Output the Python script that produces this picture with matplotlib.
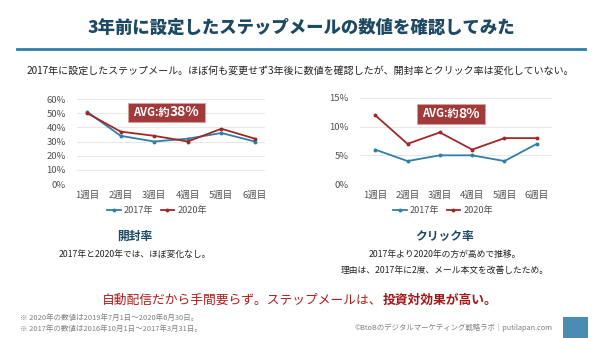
import matplotlib
matplotlib.use("Agg")
import matplotlib.pyplot as plt
from matplotlib.lines import Line2D
from matplotlib.patches import Rectangle

plt.rcParams['font.family'] = ['Noto Sans CJK JP', 'DejaVu Sans']

weeks = ["1週目", "2週目", "3週目", "4週目", "5週目", "6週目"]
open_2017 = [51, 34, 30, 32, 36, 30]
open_2020 = [50, 37, 34, 30, 39, 32]
click_2017 = [6, 4, 5, 5, 4, 7]
click_2020 = [12, 7, 9, 6, 8, 8]
series_labels = ["2017年", "2020年"]
open_ticks = [0, 10, 20, 30, 40, 50, 60]
click_ticks = [0, 5, 10, 15]

W, H = 600, 338
C17 = "#2f7fa6"
C20 = "#a02828"
NAVY = "#1d4a63"

fig = plt.figure(figsize=(W / 100, H / 100), dpi=100)
fig.patch.set_facecolor("white")


def fx(x):
    return x / W


def fy(y):
    return 1 - y / H


def axes_px(l, t, r, b):
    return fig.add_axes([fx(l), fy(b), (r - l) / W, (b - t) / H])


def draw_chart(ax, d17, d20, ticks, xlim):
    x = list(range(len(weeks)))
    ax.plot(x, d17, color=C17, lw=1.3, marker="o", ms=1.8, label=series_labels[0])
    ax.plot(x, d20, color=C20, lw=1.3, marker="o", ms=1.8, label=series_labels[1])
    ax.set_ylim(ticks[0], ticks[-1])
    ax.set_xlim(*xlim)
    ax.set_yticks(ticks)
    ax.set_yticklabels([f"{t}%" for t in ticks])
    ax.set_xticks(x)
    ax.set_xticklabels(weeks)
    ax.grid(axis="y", color="#e8e8e8", lw=0.7)
    ax.set_axisbelow(True)
    for s in ax.spines.values():
        s.set_visible(False)
    ax.tick_params(length=0, labelsize=6.8, colors="#505050")
    ax.tick_params(axis="y", pad=8)
    ax.tick_params(axis="x", pad=5)


ax1 = axes_px(77, 99, 265, 184)
draw_chart(ax1, open_2017, open_2020, open_ticks, (-0.3, 5.3))
ax2 = axes_px(360, 98, 552, 184)
draw_chart(ax2, click_2017, click_2020, click_ticks, (-0.47, 5.47))

handles = [Line2D([], [], color=C17, lw=1.3, marker="o", ms=1.8),
           Line2D([], [], color=C20, lw=1.3, marker="o", ms=1.8)]
for cx in (157, 443):
    fig.legend(handles, series_labels, loc="center", bbox_to_anchor=(fx(cx), fy(211)),
               ncol=2, frameon=False, fontsize=6.6, handlelength=1.5, handletextpad=0.3,
               columnspacing=0.8, labelcolor="#505050")

fig.canvas.draw()
renderer = fig.canvas.get_renderer()


def text_group(parts, cx, cy):
    """parts: list of (text, kwargs). Draw side by side, centered at cx (px)."""
    objs = []
    widths = []
    for s, kw in parts:
        t = fig.text(0, fy(cy), s, va="center", ha="left", **kw)
        widths.append(t.get_window_extent(renderer).width)
        objs.append(t)
    total = sum(widths)
    x0 = cx * fig.dpi / 100 - total / 2
    for t, w in zip(objs, widths):
        t.set_x(x0 / (W * fig.dpi / 100))
        x0 += w
    return objs


# AVG boxes
for (l, t, r, b, txt) in [(128, 103, 205, 122, "38%"), (417, 104, 485, 124, "8%")]:
    fig.patches.append(Rectangle((fx(l), fy(b)), (r - l) / W, (b - t) / H,
                                 transform=fig.transFigure, facecolor="#a33a3a",
                                 edgecolor="#d9a0a0", lw=0.6))
    text_group([("AVG:約", dict(color="white", fontsize=8, fontweight="bold")),
                (txt, dict(color="white", fontsize=10, fontweight="bold"))],
               (l + r) / 2, (t + b) / 2)

# Title
fig.text(fx(301), fy(28), "3年前に設定したステップメールの数値を確認してみた", color=NAVY,
         fontsize=12.5, fontweight="heavy", ha="center", va="center")
fig.add_artist(Line2D([fx(17), fx(585)], [fy(49), fy(49)], color="#2e7ea6", lw=2,
                      transform=fig.transFigure))
fig.text(0.5, fy(71), "2017年に設定したステップメール。ほぼ何も変更せず3年後に数値を確認したが、開封率とクリック率は変化していない。",
         color="#222222", fontsize=7.2, ha="center", va="center")

# Captions
fig.text(fx(135), fy(236), "開封率", color=NAVY, fontsize=8.5, fontweight="bold",
         ha="center", va="center")
fig.text(fx(135), fy(254), "2017年と2020年では、ほぼ変化なし。", color="#222222",
         fontsize=6.3, ha="center", va="center")
fig.text(fx(445), fy(236), "クリック率", color=NAVY, fontsize=8.5, fontweight="bold",
         ha="center", va="center")
fig.text(fx(445), fy(254), "2017年より2020年の方が高めで推移。", color="#222222",
         fontsize=6.3, ha="center", va="center")
fig.text(fx(445), fy(270), "理由は、2017年に2度、メール本文を改善したため。", color="#222222",
         fontsize=6.3, ha="center", va="center")

# Conclusion
text_group([("自動配信だから手間要らず。ステップメールは、", dict(color="#b01c1c", fontsize=9.2)),
            ("投資対効果が高い。", dict(color="#a01818", fontsize=9.2, fontweight="bold"))],
           300, 300)

# Footnotes
fig.text(fx(20), fy(318), "※ 2020年の数値は2019年7月1日～2020年6月30日。", color="#808080",
         fontsize=5.4, ha="left", va="center")
fig.text(fx(20), fy(329), "※ 2017年の数値は2016年10月1日～2017年3月31日。", color="#808080",
         fontsize=5.4, ha="left", va="center")
fig.text(fx(553), fy(328), "©BtoBのデジタルマーケティング戦略ラボ｜putilapan.com", color="#808080",
         fontsize=5.3, ha="right", va="center")
fig.patches.append(Rectangle((fx(563), fy(338)), 25 / W, 21 / H, transform=fig.transFigure,
                             facecolor="#4a8db3", edgecolor="none"))

fig.savefig("out.png", dpi=100, facecolor="white")
